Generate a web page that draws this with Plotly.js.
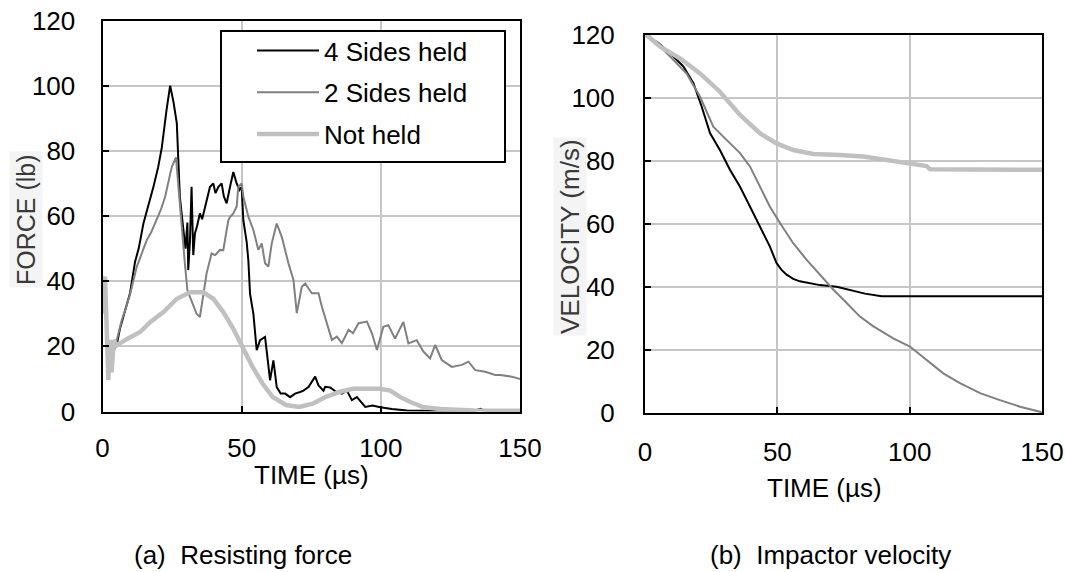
<!DOCTYPE html>
<html>
<head>
<meta charset="utf-8">
<script src="https://cdn.plot.ly/plotly-3.0.1.min.js"></script>
<style>
html,body{margin:0;padding:0;background:#fff;}
#chart{width:1065px;height:572px;}
</style>
</head>
<body>
<div id="chart"></div>
<script>
// ---------- (a) Resisting force ----------
const seriesNames = ["4 Sides held", "2 Sides held", "Not held"];

const timeForce4 = [3, 5, 6.3, 8, 9.9, 11.7, 13, 14.7, 16.5, 18.3, 20, 21.3, 23, 24.3, 25.5, 26.7, 27.8, 29.1, 29.8, 30.5, 30.8, 31.4, 32, 32.6, 33.2, 34, 35, 35.8, 36.8, 37.6, 38.6, 39.8, 40.6, 41.6, 42.8, 43.6, 44.6, 45.8, 47, 48.2, 49.2, 50, 50.6, 51.8, 52.4, 53, 54.2, 55.4, 56.6, 58.4, 59.6, 60.2, 61.4, 62.6, 64, 65.6, 67.4, 69.2, 71, 72.2, 74, 76.4, 77.6, 79.4, 80, 81.8, 84, 86, 87.8, 89.6, 91.4, 94.4, 97, 99.8, 104, 109.4, 115, 125, 134, 135.8, 137, 150];
const force4 = [19, 20, 25.5, 31, 36.4, 46, 50, 57.7, 63, 69, 75, 81, 92.5, 100, 95, 88.4, 65.7, 55.4, 50, 58, 43.4, 52, 69, 48, 54.6, 57, 60.8, 59, 62.9, 66, 68.9, 70, 67, 68.9, 70, 66, 63.9, 68.9, 73.5, 70, 68, 68.9, 58.7, 52, 46.4, 36.2, 30, 18.8, 21.9, 22.9, 13.7, 9.6, 15.7, 7.5, 5.5, 5.5, 4.4, 5.5, 6, 6.4, 7.5, 10.7, 8, 6.4, 7.6, 7.4, 6, 5.5, 6.4, 3.5, 4.4, 1.4, 1.8, 1.3, 0.8, 0.3, 0.2, 0.2, 0.3, 0.8, 0.3, 0.3];

const timeForce2 = [4, 5.1, 6.9, 8.5, 9.9, 12.3, 14, 15.9, 17.5, 19.5, 21, 22.5, 24, 24.9, 26.4, 27.3, 28.4, 29.6, 30.5, 32, 33, 33.8, 35, 36.2, 37.4, 39.2, 40.5, 42.2, 43.4, 44, 45.2, 45.8, 47, 48.2, 48.8, 50, 50.6, 52.4, 54.2, 56, 57.2, 58.4, 59.6, 60.8, 62.6, 64.4, 66.8, 68.6, 69.8, 71.6, 72.8, 75.2, 77.6, 78.8, 80.6, 82.4, 84.2, 86, 88.4, 90, 92, 95, 96.8, 98.6, 100.9, 102.7, 105.1, 108.1, 109.9, 112.9, 115.3, 117.7, 119.5, 121.9, 125.5, 129.1, 131.5, 133.9, 137.5, 141.1, 142.9, 147.1, 150];
const force2 = [18, 21.9, 28, 32, 36, 44.4, 48, 52.6, 55, 58.7, 62, 65.9, 72, 75.1, 78, 68, 58.7, 45.4, 37.2, 34.1, 32, 30, 29, 36.2, 42.4, 48.5, 48, 49.6, 49.5, 52.6, 58.7, 59.7, 60.8, 62.9, 69, 70, 66, 59.8, 55.7, 49.6, 51.6, 45.5, 44.5, 51.6, 57.7, 53.6, 45.5, 40.4, 30.2, 38.3, 39.3, 36.3, 36.3, 32.2, 27.1, 22, 23, 21, 25.1, 24, 27.1, 27.6, 24, 18.9, 26, 26.5, 22.4, 27.5, 20.9, 21.9, 18.4, 16.3, 20.4, 15.8, 13.7, 14.3, 15.3, 12.7, 12.2, 11.2, 11.2, 10.7, 10];

const timeForce0 = [0, 0.5, 0.9, 1.5, 2.1, 2.7, 3.3, 4, 5.1, 8.7, 13.5, 17.1, 21.9, 26.7, 31.5, 36.2, 39.8, 43.4, 47, 50.3, 53.9, 57.5, 61.1, 65.9, 70.7, 75.5, 80.3, 85.1, 89.9, 94.7, 99.5, 103.4, 107, 110.6, 115.4, 121.4, 127.4, 133.4, 141, 150];
const force0 = [41.5, 30, 41.4, 20, 9.7, 22, 12, 21.9, 20.3, 22.2, 24.4, 27.4, 30.5, 34.6, 36.6, 36.6, 34.6, 30.5, 25.4, 19.8, 13.7, 8.6, 4.5, 2, 1.4, 2.4, 4.5, 6, 7, 7, 7, 6.4, 4.4, 2.9, 1.3, 0.8, 0.5, 0.3, 0.2, 0.2];

// ---------- (b) Impactor velocity ----------
const timeVel4 = [0, 5, 9.4, 14.5, 18.3, 21.4, 24.6, 28.3, 32.1, 35.9, 39.7, 43.4, 47.2, 49.7, 51.5, 53.5, 56, 58.5, 62, 66.1, 72.4, 77.4, 83.1, 89.4, 100, 150];
const vel4 = [120, 117.5, 114.2, 110, 104.7, 97.3, 88.8, 83.5, 77.2, 71.8, 65.5, 59.2, 52.8, 47.6, 45.5, 43.9, 42.6, 41.8, 41.2, 40.6, 40.1, 39, 37.9, 37.1, 37.1, 37.1];

const timeVel2 = [0, 5, 10.7, 15.7, 20.8, 25.8, 30.8, 35.9, 39.7, 43.4, 47.2, 51, 56, 61.1, 66.1, 71.1, 76.2, 81.2, 86.3, 93.8, 100.1, 106.4, 112.7, 119, 126.6, 134.1, 141.7, 149.2, 150];
const vel2 = [120, 117, 112.1, 107.8, 100.4, 90.9, 86.7, 82.5, 78.2, 71.9, 65.5, 60.3, 53.9, 48.6, 43.9, 39.2, 34.9, 30.6, 27.5, 23.7, 21.1, 16.9, 12.6, 9.5, 6.3, 4.1, 2.0, 0.4, 0];

const timeVel0 = [0, 5.7, 13.2, 20.8, 28.3, 35.9, 43.4, 49.7, 56, 63.6, 73.6, 82.5, 91.3, 99.5, 106.4, 107.7, 129, 150];
const vel0 = [120.5, 116.3, 112.6, 107.8, 102, 94.6, 88.8, 85.6, 83.5, 82.2, 81.9, 81.4, 80.3, 79.3, 78.4, 77.4, 77.4, 77.2];

const xTicks = [0, 50, 100, 150];
const yTicks = [0, 20, 40, 60, 80, 100, 120];

const styles = [
  {color: "#000000", width: 2},
  {color: "#808080", width: 2},
  {color: "#c0c0c0", width: 4.5}
];

const forceX = [timeForce4, timeForce2, timeForce0];
const forceY = [force4, force2, force0];
const velX = [timeVel4, timeVel2, timeVel0];
const velY = [vel4, vel2, vel0];

const traces = [];
for (let i = 0; i < 3; i++) {
  traces.push({
    x: forceX[i], y: forceY[i], type: "scatter", mode: "lines",
    name: seriesNames[i], legendgroup: "g" + i,
    line: {color: styles[i].color, width: styles[i].width, shape: "linear"},
    xaxis: "x", yaxis: "y", hoverinfo: "skip"
  });
}
for (let i = 0; i < 3; i++) {
  traces.push({
    x: velX[i], y: velY[i], type: "scatter", mode: "lines",
    name: seriesNames[i], legendgroup: "g" + i, showlegend: false,
    line: {color: styles[i].color, width: styles[i].width},
    xaxis: "x2", yaxis: "y2", hoverinfo: "skip"
  });
}

const W = 1065, H = 572;
const px = v => v / W;
const py = v => 1 - v / H;

const font = {family: "Liberation Sans, Arial, sans-serif", size: 26, color: "#000"};

function axisCommon(extra) {
  return Object.assign({
    showline: true, linecolor: "#000", linewidth: 2, mirror: true,
    showgrid: true, gridcolor: "#c6c6c6", gridwidth: 2,
    zeroline: false,
    ticks: "inside", ticklen: 6, tickwidth: 2, tickcolor: "#000",
    tickfont: font, fixedrange: true
  }, extra);
}

const layout = {
  width: W, height: H,
  margin: {l: 0, r: 0, t: 0, b: 0},
  paper_bgcolor: "#fff", plot_bgcolor: "#fff",
  font: font,
  showlegend: true,
  legend: {
    x: px(252), y: py(27), xanchor: "left", yanchor: "top",
    borderwidth: 0, bgcolor: "rgba(0,0,0,0)",
    font: font, tracegroupgap: 5, itemwidth: 62
  },
  shapes: [
    {type: "rect", xref: "paper", yref: "paper", x0: px(221), x1: px(505), y0: py(162), y1: py(31),
     line: {color: "#000", width: 2}, fillcolor: "#fff", layer: "above"}
  ],
  xaxis: axisCommon({domain: [px(102.5), px(520)], range: [0, 150], tickvals: xTicks, anchor: "y", ticklabelstandoff: 12}),
  yaxis: axisCommon({domain: [py(411.5), py(20.5)], range: [0, 120], tickvals: yTicks, anchor: "x", ticklabelstandoff: 20}),
  xaxis2: axisCommon({domain: [px(645), px(1042)], range: [0, 150], tickvals: xTicks, anchor: "y2", ticklabelstandoff: 15}),
  yaxis2: axisCommon({domain: [py(413), py(35)], range: [0, 120], tickvals: yTicks, anchor: "x2", ticklabelstandoff: 23}),
  annotations: [
    {text: "TIME (µs)", xref: "paper", yref: "paper", x: px(311), y: py(475), xanchor: "center", yanchor: "middle", showarrow: false, font: font},
    {text: "TIME (µs)", xref: "paper", yref: "paper", x: px(824), y: py(488), xanchor: "center", yanchor: "middle", showarrow: false, font: font},
    {text: "(a)\u00a0\u00a0Resisting force", xref: "paper", yref: "paper", x: px(243), y: py(555), xanchor: "center", yanchor: "middle", showarrow: false, font: font},
    {text: "(b)\u00a0\u00a0Impactor velocity", xref: "paper", yref: "paper", x: px(830), y: py(555), xanchor: "center", yanchor: "middle", showarrow: false, font: font},
    {text: "FORCE (lb)", xref: "paper", yref: "paper", x: px(26), y: py(220), xanchor: "center", yanchor: "middle", textangle: -90, showarrow: false,
     bgcolor: "#f4f4f4", borderpad: 2,
     font: {family: "Liberation Sans, Arial, sans-serif", size: 25, color: "#3a3a3a"}},
    {text: "VELOCITY (m/s)", xref: "paper", yref: "paper", x: px(570), y: py(237), xanchor: "center", yanchor: "middle", textangle: -90, showarrow: false,
     bgcolor: "#f4f4f4", borderpad: 1,
     font: {family: "Liberation Sans, Arial, sans-serif", size: 26, color: "#3a3a3a"}}
  ]
};

Plotly.newPlot("chart", traces, layout, {displayModeBar: false, staticPlot: true});
</script>
</body>
</html>
